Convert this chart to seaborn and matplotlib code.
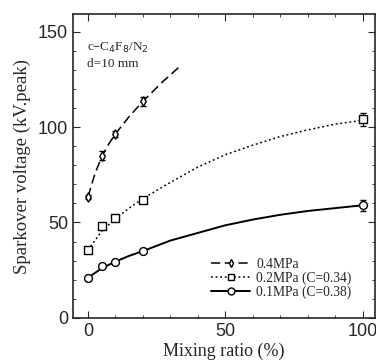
import numpy as np
import pandas as pd
import matplotlib
matplotlib.use("Agg")
import matplotlib.pyplot as plt
import seaborn as sns
from matplotlib.lines import Line2D

# Puntos medidos
mix = [0, 5, 10, 20]
v04 = [63.5, 85, 96.5, 113.5]
e04 = [1, 2.5, 1.5, 2.5]
mix2 = [0, 5, 10, 20, 100]
v02 = [35.5, 48, 52.5, 62, 104]
e02 = [1, 1, 1, 1, 3.5]
v01 = [21, 27, 29.5, 35, 59]
e01 = [1, 1, 1, 1, 3]

# Curvas de ajuste
cx04 = [0, 2.5, 5, 7.5, 10, 15, 20, 27, 34]
cy04 = [63.5, 75.5, 84.5, 91, 96.5, 105.5, 113.5, 123.5, 132.5]
cx02 = [0, 5, 10, 15, 20, 30, 40, 50, 60, 70, 80, 90, 100]
cy02 = [35.5, 45.5, 52, 57.5, 62.5, 71, 79, 85.5, 90.5, 95, 98.5, 101.5, 103.5]
cx01 = [0, 5, 10, 15, 20, 30, 40, 50, 60, 70, 80, 90, 100]
cy01 = [21, 26, 29.5, 32.5, 35, 40.5, 44.5, 48.5, 51.5, 54, 56, 57.5, 59]

sns.set_style("ticks")
plt.rcParams['font.family'] = ['Liberation Serif', 'DejaVu Serif']

fig = plt.figure(figsize=(3.76, 3.62), dpi=100)
ax = fig.add_axes([0.194, 0.122, 0.803, 0.838])

sns.lineplot(x=cx04, y=cy04, ax=ax, color='black', lw=1.1)
ax.lines[-1].set_dashes([6, 3])
sns.lineplot(x=cx02, y=cy02, ax=ax, color='black', lw=1.1)
ax.lines[-1].set_dashes([1.2, 1.8])
sns.lineplot(x=cx01, y=cy01, ax=ax, color='black', lw=1.4)

ax.errorbar(mix, v04, yerr=e04, fmt='none', ecolor='black', elinewidth=0.8, capsize=2)
ax.errorbar(mix2, v02, yerr=e02, fmt='none', ecolor='black', elinewidth=0.8, capsize=2)
ax.errorbar(mix2, v01, yerr=e01, fmt='none', ecolor='black', elinewidth=0.8, capsize=2)

sns.scatterplot(x=mix, y=v04, ax=ax, marker='d', s=22, facecolor='white',
                edgecolor='black', linewidth=1.0, zorder=5)
sns.scatterplot(x=mix2, y=v02, ax=ax, marker='s', s=30, facecolor='white',
                edgecolor='black', linewidth=1.0, zorder=5)
sns.scatterplot(x=mix2, y=v01, ax=ax, marker='o', s=32, facecolor='white',
                edgecolor='black', linewidth=1.0, zorder=5)

# Leyenda
h1 = Line2D([], [], color='black', lw=1.1, dashes=[6, 3], marker='d', ms=4,
            mfc='white', mec='black')
h2 = Line2D([], [], color='black', lw=1.1, dashes=[1.2, 1.8], marker='s', ms=5,
            mfc='white', mec='black')
h3 = Line2D([], [], color='black', lw=1.4, marker='o', ms=5, mfc='white', mec='black')
ax.legend([h1, h2, h3], ['0.4MPa', '0.2MPa (C=0.34)', '0.1MPa (C=0.38)'],
          loc='lower right', bbox_to_anchor=(0.955, 0.03), frameon=False,
          fontsize=9.8, handlelength=2.8, labelspacing=0.05, handletextpad=0.5,
          borderpad=0.2)

ax.text(0.045, 0.89, 'c\u2013C$_4$F$_8$/N$_2$', transform=ax.transAxes, fontsize=9.5,
        va='center', ha='left')
ax.text(0.045, 0.838, 'd=10 mm', transform=ax.transAxes, fontsize=9.5,
        va='center', ha='left')

ax.set_xlim(-5.5, 104.5)
ax.set_ylim(0, 159)
ax.set_xticks([0, 50, 100])
ax.set_yticks([0, 50, 100, 150])
ax.set_xticks(np.arange(0, 101, 10), minor=True)
ax.set_yticks(np.arange(0, 160, 10), minor=True)
ax.tick_params(which='both', direction='in', top=True, right=True)
ax.tick_params(which='major', length=5, labelsize=13)
ax.tick_params(which='minor', length=2.5)
for lab in ax.get_xticklabels() + ax.get_yticklabels():
    lab.set_family(['Liberation Sans', 'DejaVu Sans'])
for s in ax.spines.values():
    s.set_linewidth(1.2)

ax.set_xlabel('Mixing ratio (%)', fontsize=13, labelpad=2)
ax.set_ylabel('Sparkover voltage (kV.peak)', fontsize=13.5, labelpad=5)

fig.savefig('out.png', dpi=100)
